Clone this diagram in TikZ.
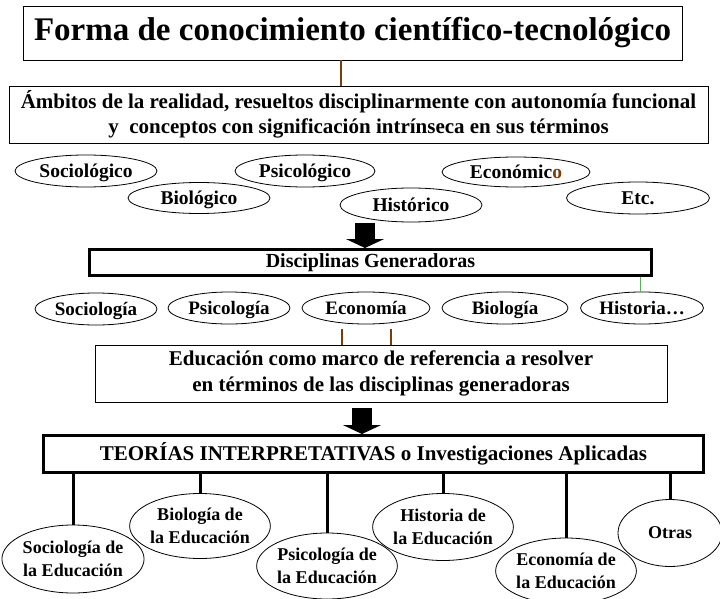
\documentclass[tikz,border=0pt]{standalone}
\usepackage{fontspec}
\setmainfont{Liberation Serif}
\usetikzlibrary{shapes.geometric,arrows.meta}
\definecolor{brownc}{RGB}{122,62,10}
\definecolor{greenc}{RGB}{90,175,90}
\newcommand{\fs}[2]{\fontsize{#1}{#2}\selectfont\bfseries}
\tikzset{
  thinbox/.style={draw, line width=0.9pt, inner sep=0pt, align=center},
  thickbox/.style={draw, line width=3pt, inner sep=0pt, align=center},
  oval/.style={draw, ellipse, line width=0.8pt, inner sep=0pt, align=center},
  ovaltxt/.style={font=\fs{19.5}{22}, text height=15pt, text depth=3pt},
  ovaltxtb/.style={font=\fs{19}{22}, text height=15pt, text depth=3pt},
  edtxt/.style={font=\fs{18}{23}},
  brownl/.style={draw=brownc, line width=2.5pt},
  greenl/.style={draw=greenc, line width=1pt},
  blackl/.style={draw=black, line width=3pt},
  blockarrow/.style={line width=20pt, -{Triangle[width=38pt,length=9pt]}}
}
\begin{document}
\begin{tikzpicture}[x=1pt,y=-1pt]
\useasboundingbox (0,0) rectangle (720,599);
% boxes
\node[thinbox, minimum width=659, minimum height=54, font=\fs{33}{36}] (title) at (352.5,33) {Forma de conocimiento científico-tecnológico};
\node[thinbox, minimum width=699, minimum height=57, font=\fs{21}{25}] (amb) at (358.5,114.5) {Ámbitos de la realidad, resueltos disciplinarmente con autonomía funcional\\y\ \ conceptos con significación intrínseca en sus términos};
\coordinate (bx) at (341,0);
\draw[brownl] (title.south -| bx) -- (amb.north -| bx);
% row 1
\node[oval, ovaltxt, minimum width=142, minimum height=32] (soc1) at (86,171) {Sociológico};
\node[oval, ovaltxt, minimum width=142, minimum height=31] (bio1) at (199,198) {Biológico};
\node[oval, ovaltxt, minimum width=140, minimum height=32] (psi1) at (305,171) {Psicológico};
\node[oval, ovaltxt, minimum width=142, minimum height=34] (his1) at (411,205) {Histórico};
\node[oval, ovaltxt, minimum width=148, minimum height=30] (eco1) at (516,172) {Económic\textcolor{brownc}{o}};
\node[oval, ovaltxt, minimum width=143, minimum height=32] (etc1) at (638,198) {Etc.};
% disciplinas
\node[thickbox, minimum width=562, minimum height=26, font=\fs{20}{22}] (disc) at (370.5,262.5) {Disciplinas Generadoras};
\coordinate (a1) at (365,223);
\draw[blockarrow] (a1) -- (a1 |- disc.north);
% row 2
\node[oval, ovaltxtb, minimum width=122, minimum height=32] (soc2) at (96,309) {Sociología};
\node[oval, ovaltxtb, minimum width=122, minimum height=32] (psi2) at (229,308) {Psicología};
\node[oval, ovaltxtb, minimum width=128, minimum height=32] (eco2) at (366,308) {Economía};
\node[oval, ovaltxtb, minimum width=126, minimum height=32] (bio2) at (505,308) {Biología};
\node[oval, ovaltxtb, minimum width=123, minimum height=32] (his2) at (642,308) {Historia…};
\coordinate (gx) at (640,0);
\draw[greenl] (disc.south -| gx) -- (his2.north -| gx);
% educacion
\node[thinbox, minimum width=572, minimum height=57, font=\fs{21}{26}] (edu) at (381,373.5) {Educación como marco de referencia a resolver\\en términos de las disciplinas generadoras};
\coordinate (l1) at (342,329);
\coordinate (l2) at (391,329);
\draw[brownl] (l1) -- (l1 |- edu.north);
\draw[brownl] (l2) -- (l2 |- edu.north);
% teorias
\node[thickbox, minimum width=660, minimum height=37, font=\fs{21}{24}] (teo) at (373.5,454) {TEORÍAS INTERPRETATIVAS o Investigaciones Aplicadas};
\coordinate (a2) at (362,408);
\draw[blockarrow] (a2) -- (a2 |- teo.north);
% bottom ellipses
\node[oval, edtxt, minimum width=128, minimum height=68] (sE) at (73,559) {Sociología de\\la Educación};
\node[oval, edtxt, minimum width=127, minimum height=65] (bE) at (200,526) {Biología de\\la Educación};
\node[oval, edtxt, minimum width=128, minimum height=66] (pE) at (327,566) {Psicología de\\la Educación};
\node[oval, edtxt, minimum width=126, minimum height=67] (hE) at (443,527) {Historia de\\la Educación};
\node[oval, edtxt, minimum width=125, minimum height=66] (eE) at (566,571) {Economía de\\la Educación};
\node[oval, edtxt, minimum width=104, minimum height=67] (oE) at (670,533) {Otras};
\foreach \n in {sE,bE,pE,hE,eE,oE}
  \draw[blackl] (\n.north |- teo.south) -- (\n.north);
\end{tikzpicture}
\end{document}
